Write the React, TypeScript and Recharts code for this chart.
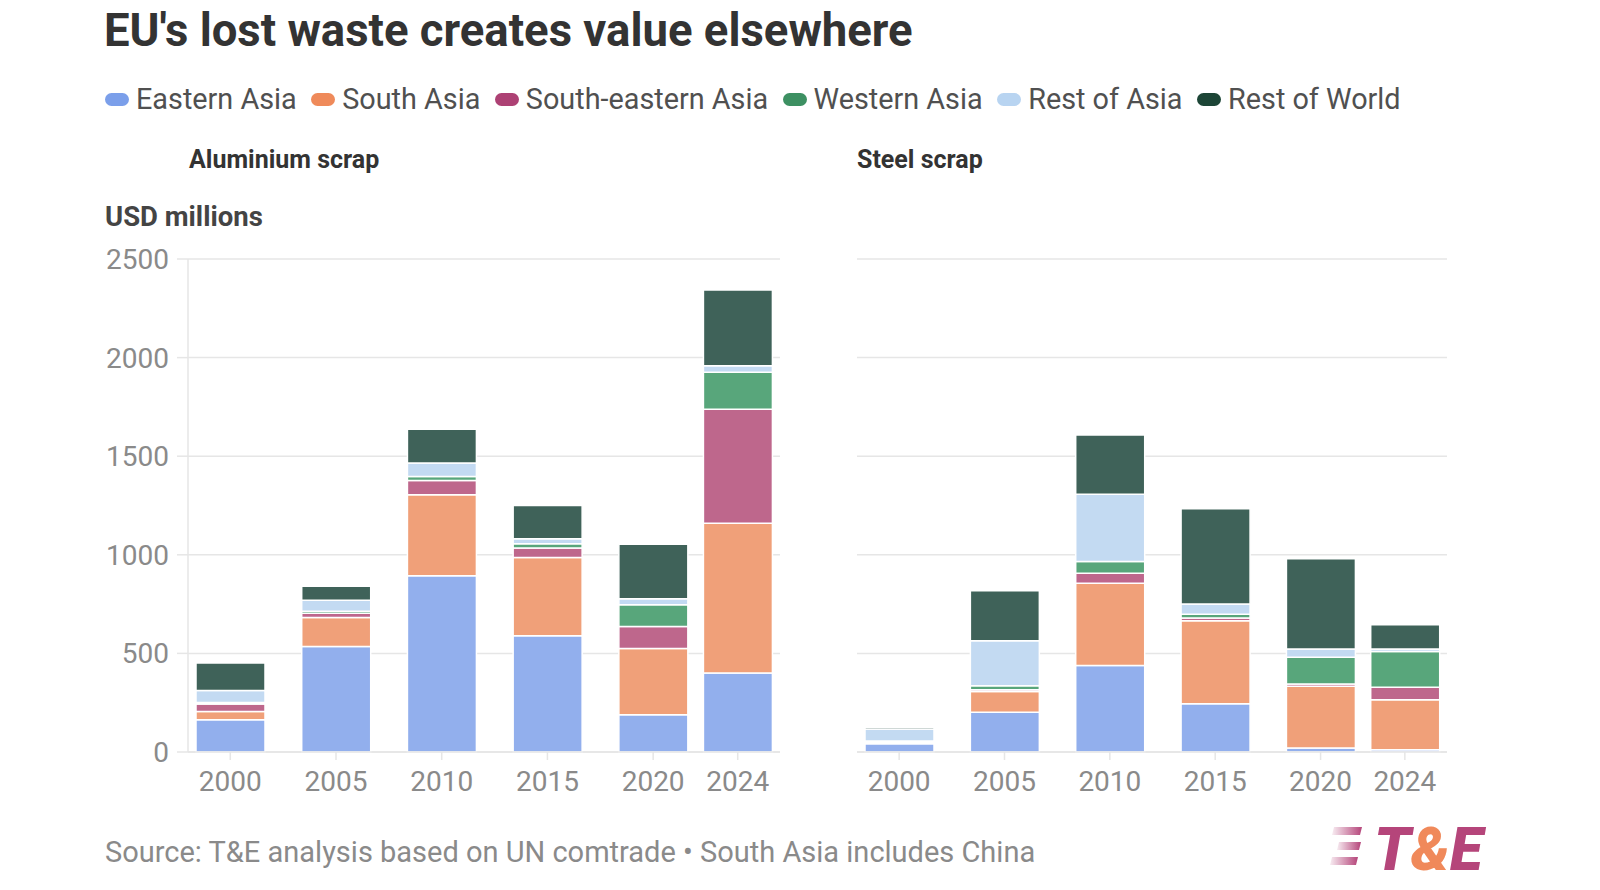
import React from 'react';
import { BarChart, Bar, XAxis, YAxis, CartesianGrid } from 'recharts';

const years = [2000, 2005, 2010, 2015, 2020, 2024];
const yTicks = [0, 500, 1000, 1500, 2000, 2500];

const seriesKeys = ['eastern', 'south', 'southEastern', 'western', 'restAsia', 'restWorld'];
const seriesNames = ['Eastern Asia', 'South Asia', 'South-eastern Asia', 'Western Asia', 'Rest of Asia', 'Rest of World'];
const legendColors = ['#7b9fea', '#ef8a5a', '#ad4174', '#3d9062', '#b8d4f1', '#1c4536'];
const barColors = ['#92afed', '#f0a079', '#be678c', '#58a67b', '#c3daf2', '#3f6259'];

// Aluminium scrap (USD millions)
const alEastern = [164, 535, 894, 590, 189, 400];
const alSouth = [42, 147, 410, 396, 336, 760];
const alSouthEastern = [37, 22, 73, 48, 112, 578];
const alWestern = [8, 10, 20, 22, 110, 188];
const alRestAsia = [61, 55, 68, 25, 30, 33];
const alRestWorld = [139, 71, 172, 169, 277, 384];

// Steel scrap (USD millions)
const stEastern = [42, 201, 439, 245, 20, 12];
const stSouth = [4, 106, 417, 421, 313, 253];
const stSouthEastern = [4, 9, 51, 13, 12, 63];
const stWestern = [6, 20, 59, 20, 136, 182];
const stRestAsia = [60, 228, 341, 51, 41, 12];
const stRestWorld = [10, 254, 301, 483, 458, 123];

const build = (cols: number[][]) =>
  years.map((year, i) => {
    const row: Record<string, number> = { year };
    seriesKeys.forEach((k, j) => {
      row[k] = cols[j][i];
    });
    return row;
  });

const alData = build([alEastern, alSouth, alSouthEastern, alWestern, alRestAsia, alRestWorld]);
const stData = build([stEastern, stSouth, stSouthEastern, stWestern, stRestAsia, stRestWorld]);

const FONT = 'Roboto, sans-serif';
const GRID = '#e6e6e6';
const TICK = '#8a8a8a';

function Panel({ data, showY, width, marginLeft, marginRight }: any) {
  return (
    <BarChart
      width={width}
      height={800}
      data={data}
      margin={{ top: 259, bottom: 18, left: marginLeft, right: marginRight }}
      barGap={0}
    >
      <CartesianGrid vertical={false} stroke={GRID} strokeWidth={1.5} />
      <XAxis
        dataKey="year"
        type="number"
        domain={[1998, 2026]}
        ticks={years}
        interval={0}
        height={30}
        tickSize={8}
        tickMargin={11}
        axisLine={{ stroke: GRID, strokeWidth: 1.5 }}
        tickLine={{ stroke: GRID, strokeWidth: 1.5 }}
        tick={{ fill: TICK, fontSize: 28, fontFamily: FONT }}
      />
      <YAxis
        hide={!showY}
        width={88}
        domain={[0, 2500]}
        ticks={yTicks}
        interval={0}
        tickSize={11}
        tickMargin={8}
        axisLine={{ stroke: GRID, strokeWidth: 1.5 }}
        tickLine={{ stroke: GRID, strokeWidth: 1.5 }}
        tick={{ fill: TICK, fontSize: 28, fontFamily: FONT }}
      />
      {seriesKeys.map((k, j) => (
        <Bar
          key={k}
          dataKey={k}
          stackId="a"
          fill={barColors[j]}
          stroke="#ffffff"
          strokeWidth={1.5}
          barSize={69}
          isAnimationActive={false}
        />
      ))}
    </BarChart>
  );
}

function Logo() {
  return (
    <svg width={210} height={70} style={{ position: 'absolute', left: 1326, top: 814 }}>
      <defs>
        <linearGradient id="stripe" x1="0" x2="1" y1="0" y2="0">
          <stop offset="0" stopColor="#b5457a" stopOpacity="0.1" />
          <stop offset="1" stopColor="#b5457a" stopOpacity="1" />
        </linearGradient>
      </defs>
      <polygon points="8,13 36,13 34,21 6,21" fill="url(#stripe)" />
      <polygon points="13,28 35,28 33,36 11,36" fill="url(#stripe)" />
      <polygon points="6,43 32,43 30,51 4,51" fill="url(#stripe)" />
      <text
        x={48}
        y={56}
        fontFamily={FONT}
        fontWeight={900}
        fontStyle="italic"
        fontSize={60}
        fill="#b5457a"
      >
        T<tspan fill="#f0895a">&amp;</tspan>E
      </text>
    </svg>
  );
}

export default function App() {
  return (
    <div
      style={{
        position: 'absolute',
        left: 0,
        top: 0,
        width: 1600,
        height: 890,
        background: '#ffffff',
        fontFamily: FONT,
        overflow: 'hidden',
      }}
    >
      <div
        style={{
          position: 'absolute',
          left: 104,
          top: 4,
          fontSize: 45.5,
          fontWeight: 700,
          color: '#333333',
          whiteSpace: 'nowrap',
          lineHeight: '54px',
        }}
      >
        EU's lost waste creates value elsewhere
      </div>
      <div
        style={{
          position: 'absolute',
          left: 105,
          top: 81,
          height: 36,
          display: 'flex',
          alignItems: 'center',
          fontSize: 28.8,
          color: '#505050',
          whiteSpace: 'nowrap',
        }}
      >
        {seriesNames.map((n, j) => (
          <div key={n} style={{ display: 'flex', alignItems: 'center', marginRight: 14.5 }}>
            <div
              style={{
                width: 24,
                height: 13,
                borderRadius: 7,
                background: legendColors[j],
                marginRight: 7,
              }}
            />
            <span>{n}</span>
          </div>
        ))}
      </div>
      <div
        style={{
          position: 'absolute',
          left: 189,
          top: 145,
          fontSize: 25,
          fontWeight: 700,
          color: '#333333',
          lineHeight: '30px',
        }}
      >
        Aluminium scrap
      </div>
      <div
        style={{
          position: 'absolute',
          left: 857,
          top: 145,
          fontSize: 25,
          fontWeight: 700,
          color: '#333333',
          lineHeight: '30px',
        }}
      >
        Steel scrap
      </div>
      <div
        style={{
          position: 'absolute',
          left: 105,
          top: 201,
          fontSize: 27.5,
          fontWeight: 700,
          color: '#444444',
          lineHeight: '32px',
        }}
      >
        USD millions
      </div>
      <div style={{ position: 'absolute', left: 0, top: 0 }}>
        <Panel data={alData} showY={true} width={800} marginLeft={100} marginRight={20} />
      </div>
      <div style={{ position: 'absolute', left: 800, top: 0 }}>
        <Panel data={stData} showY={false} width={700} marginLeft={57} marginRight={53} />
      </div>
      <div
        style={{
          position: 'absolute',
          left: 105,
          top: 834,
          fontSize: 29,
          color: '#8a8a8a',
          whiteSpace: 'nowrap',
          lineHeight: '36px',
        }}
      >
        Source: T&amp;E analysis based on UN comtrade • South Asia includes China
      </div>
      <Logo />
    </div>
  );
}
